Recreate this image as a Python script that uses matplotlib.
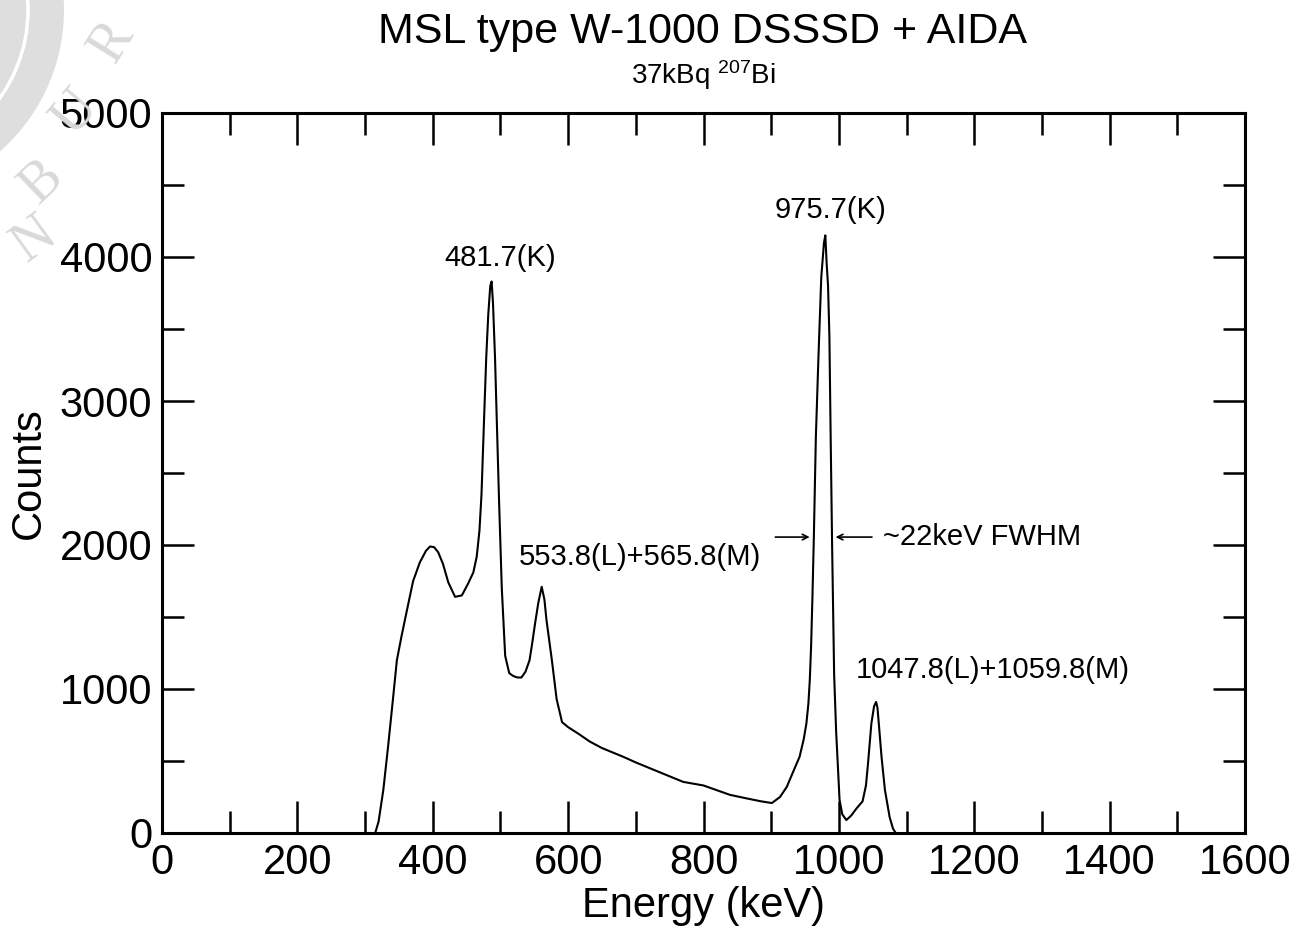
import matplotlib
matplotlib.use("Agg")
import matplotlib.pyplot as plt
from matplotlib.patches import Circle
from matplotlib.transforms import IdentityTransform
from matplotlib.ticker import MultipleLocator

# ── Data ───────────────────────────────────────────────────────────────────────

ENERGY = [315, 320, 327, 334, 341, 347, 354, 362, 371, 381, 390, 396, 402, 408,
          415, 423, 433, 443, 452, 460, 465, 469, 472, 476, 479, 482, 485, 487,
          489, 492, 495, 498, 502, 507, 513, 519, 525, 531, 537, 543, 547, 551,
          556, 561, 565, 568, 572, 576, 583, 591, 600, 615, 632, 650, 681, 700,
          731, 770, 800, 839, 864, 885, 901, 913, 923, 932, 942, 948, 952, 955,
          957, 959, 961, 963, 966, 970, 974, 978, 980, 982, 984, 986, 988, 990,
          993, 996, 999, 1001, 1005, 1011, 1018, 1026, 1035, 1040, 1043, 1048,
          1052, 1055, 1057, 1059, 1063, 1068, 1075, 1080, 1084]
COUNTS = [0, 80, 300, 600, 920, 1200, 1370, 1550, 1750, 1880, 1960, 1990, 1985,
          1950, 1870, 1740, 1640, 1650, 1730, 1810, 1920, 2100, 2350, 2900, 3300,
          3600, 3800, 3830, 3680, 3300, 2800, 2300, 1700, 1230, 1110, 1090, 1080,
          1080, 1120, 1200, 1320, 1450, 1600, 1710, 1620, 1480, 1340, 1200, 930,
          770, 735, 690, 635, 590, 530, 490, 430, 355, 330, 265, 240, 220, 208,
          250, 320, 420, 530, 650, 760, 900, 1060, 1300, 1650, 2050, 2750, 3330,
          3860, 4100, 4150, 3950, 3800, 3450, 2700, 2000, 1100, 700, 420, 230,
          130, 90, 120, 170, 220, 330, 480, 760, 880, 910, 870, 760, 530, 300,
          110, 30, 0]

PEAK_TEXT = ["481.7(K)", "975.7(K)", "553.8(L)+565.8(M)", "1047.8(L)+1059.8(M)"]
PEAK_TEXT_E = [499, 987, 706, 1228]
PEAK_TEXT_C = [3993, 4326, 1917, 1132]

OUTPUT_PATH = "out.png"

plt.rcParams["font.family"] = ["Liberation Sans", "DejaVu Sans"]
plt.rcParams["mathtext.fontset"] = "custom"
plt.rcParams["mathtext.rm"] = "Liberation Sans"
plt.rcParams["mathtext.it"] = "Liberation Sans:italic"


def main():
    fig = plt.figure(figsize=(13, 9.32), dpi=100)

    # faint university seal watermark in the corner (pixel coords)
    px = IdentityTransform()
    fig.add_artist(Circle((-124, 922), 188, transform=px, color="#dedede", lw=0))
    fig.add_artist(Circle((-124, 922), 152, transform=px, fill=False,
                          edgecolor="white", lw=2.5))
    for ch, x, y, rot in [("R", 112, 42, 58), ("U", 76, 112, 50),
                          ("B", 42, 182, 44), ("N", 34, 240, 36)]:
        fig.text(x / 1300, 1 - y / 932, ch, rotation=rot, fontsize=40,
                 family="Liberation Serif", color="#d9d9d9",
                 ha="center", va="center")

    ax = fig.add_axes([162 / 1300, 1 - 833 / 932, 1083 / 1300, 720 / 932])
    ax.patch.set_alpha(0)

    ax.plot(ENERGY, COUNTS, color="black", lw=1.5)

    for txt, e, c in zip(PEAK_TEXT, PEAK_TEXT_E, PEAK_TEXT_C):
        ax.text(e, c, txt, fontsize=21, ha="center", va="center")

    # FWHM arrows on the 975.7 keV line
    ax.annotate("", xy=(961, 2055), xytext=(902, 2055),
                arrowprops=dict(arrowstyle="->", lw=1.2, color="black"))
    ax.annotate("", xy=(991, 2055), xytext=(1053, 2055),
                arrowprops=dict(arrowstyle="->", lw=1.2, color="black"))
    ax.text(1065, 2055, "~22keV FWHM", fontsize=21, ha="left", va="center")

    ax.set_xlim(0, 1600)
    ax.set_ylim(0, 5000)
    ax.xaxis.set_major_locator(MultipleLocator(200))
    ax.xaxis.set_minor_locator(MultipleLocator(100))
    ax.yaxis.set_major_locator(MultipleLocator(1000))
    ax.yaxis.set_minor_locator(MultipleLocator(500))
    ax.tick_params(which="both", direction="in", top=True, right=True,
                   width=1.8, labelsize=30, pad=7)
    ax.tick_params(which="major", length=23)
    ax.tick_params(which="minor", length=16)
    for s in ax.spines.values():
        s.set_linewidth(2.2)

    ax.set_xlabel("Energy (keV)", fontsize=30, labelpad=2)
    ax.set_ylabel("Counts", fontsize=30, labelpad=8)

    fig.text(703 / 1300, 1 - 32 / 932, "MSL type W-1000 DSSSD + AIDA",
             fontsize=31, ha="center", va="center")
    fig.text(703 / 1300, 1 - 75 / 932, r"37kBq $^{207}$Bi",
             fontsize=20, ha="center", va="center")

    fig.savefig(OUTPUT_PATH, dpi=100)


if __name__ == "__main__":
    main()
